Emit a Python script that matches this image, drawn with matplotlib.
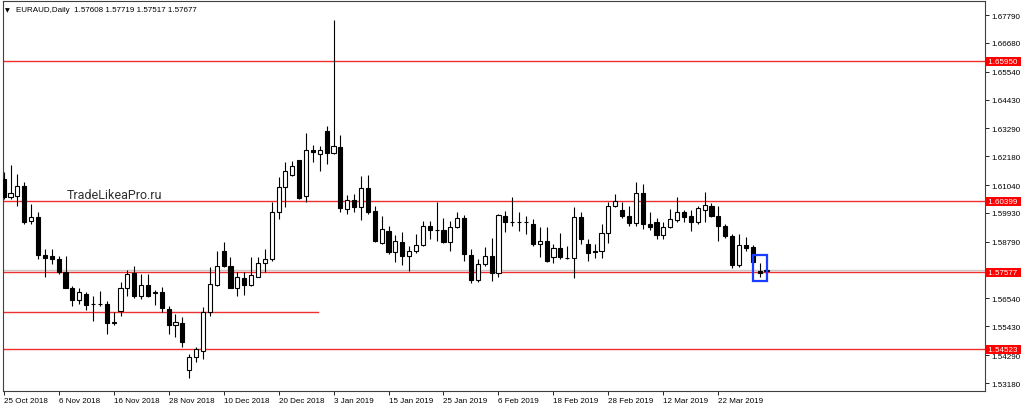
import numpy as np
import matplotlib.pyplot as plt
from matplotlib.patches import Rectangle

# Daily candles EURAUD (one per trading day)
opens = [1.6128, 1.6057, 1.6060, 1.6100, 1.5961, 1.5977, 1.5826, 1.5822, 1.5810, 1.5759,
         1.5695, 1.5648, 1.5671, 1.5632, 1.5631, 1.5632, 1.5556, 1.5604, 1.5695, 1.5755,
         1.5663, 1.5707, 1.5675, 1.5679, 1.5612, 1.5548, 1.5556, 1.5370, 1.5421, 1.5445,
         1.5600, 1.5707, 1.5842, 1.5783, 1.5695, 1.5735, 1.5707, 1.5739, 1.5794, 1.5810,
         1.5997, 1.6096, 1.6144, 1.6203, 1.6060, 1.6243, 1.6227, 1.6319, 1.6231, 1.6255,
         1.6009, 1.6045, 1.6017, 1.6092, 1.6001, 1.5874, 1.5921, 1.5838, 1.5878, 1.5822,
         1.5842, 1.5866, 1.5941, 1.5925, 1.5925, 1.5878, 1.5937, 1.5973, 1.5826, 1.5727,
         1.5790, 1.5822, 1.5755, 1.5981, 1.5957, 1.5956, 1.5957, 1.5949, 1.5870, 1.5882,
         1.5818, 1.5854, 1.5815, 1.5814, 1.5977, 1.5870, 1.5842, 1.5842, 1.5914, 1.6021,
         1.6005, 1.5981, 1.5953, 1.6072, 1.5949, 1.5957, 1.5906, 1.5937, 1.5965, 1.5997,
         1.5981, 1.5957, 1.6005, 1.6021, 1.5981, 1.5941, 1.5902, 1.5786, 1.5866, 1.5858,
         1.5763, 1.57608]
highs = [1.6156, 1.6184, 1.6148, 1.6116, 1.6029, 1.5997, 1.5850, 1.5850, 1.5822, 1.5822,
         1.5703, 1.5695, 1.5679, 1.5663, 1.5683, 1.5644, 1.5600, 1.5719, 1.5767, 1.5783,
         1.5751, 1.5751, 1.5687, 1.5699, 1.5624, 1.5592, 1.5580, 1.5433, 1.5461, 1.5620,
         1.5779, 1.5842, 1.5878, 1.5818, 1.5759, 1.5759, 1.5818, 1.5818, 1.5850, 1.6037,
         1.6136, 1.6195, 1.6199, 1.6203, 1.6311, 1.6263, 1.6259, 1.6338, 1.6759, 1.6303,
         1.6064, 1.6068, 1.6140, 1.6144, 1.6021, 1.5981, 1.5941, 1.5906, 1.5918, 1.5862,
         1.5910, 1.5961, 1.5961, 1.6037, 1.5973, 1.5961, 1.5997, 1.5985, 1.5850, 1.5810,
         1.5858, 1.5894, 1.5989, 1.6001, 1.6056, 1.5997, 1.5981, 1.5969, 1.5937, 1.5937,
         1.5870, 1.5914, 1.5862, 1.6017, 1.5997, 1.5890, 1.5870, 1.5949, 1.6037, 1.6068,
         1.6037, 1.6021, 1.6116, 1.6108, 1.5997, 1.5973, 1.5957, 1.6009, 1.6056, 1.6005,
         1.6005, 1.6021, 1.6076, 1.6033, 1.6021, 1.5949, 1.5910, 1.5910, 1.5898, 1.5866,
         1.5794, 1.57719]
lows = [1.6049, 1.6049, 1.6021, 1.5949, 1.5949, 1.5810, 1.5739, 1.5790, 1.5751, 1.5695,
        1.5624, 1.5632, 1.5608, 1.5564, 1.5624, 1.5513, 1.5548, 1.5584, 1.5663, 1.5655,
        1.5651, 1.5659, 1.5628, 1.5600, 1.5513, 1.5501, 1.5461, 1.5338, 1.5401, 1.5413,
        1.5584, 1.5703, 1.5778, 1.5695, 1.5663, 1.5667, 1.5703, 1.5739, 1.5759, 1.5802,
        1.5969, 1.6017, 1.6140, 1.6049, 1.6037, 1.6195, 1.6160, 1.6188, 1.6227, 1.5997,
        1.5989, 1.5997, 1.5965, 1.5989, 1.5878, 1.5870, 1.5830, 1.5798, 1.5786, 1.5763,
        1.5834, 1.5862, 1.5890, 1.5882, 1.5874, 1.5842, 1.5933, 1.5802, 1.5715, 1.5719,
        1.5782, 1.5723, 1.5739, 1.5917, 1.5941, 1.5921, 1.5910, 1.5862, 1.5818, 1.5798,
        1.5794, 1.5810, 1.5810, 1.5735, 1.5870, 1.5802, 1.5814, 1.5814, 1.5874, 1.6017,
        1.5973, 1.5941, 1.5941, 1.5929, 1.5925, 1.5890, 1.5890, 1.5933, 1.5957, 1.5957,
        1.5921, 1.5949, 1.5957, 1.5977, 1.5882, 1.5894, 1.5775, 1.5778, 1.5842, 1.5794,
        1.5739, 1.57517]
closes = [1.6057, 1.6072, 1.6100, 1.5957, 1.5977, 1.5826, 1.5814, 1.5810, 1.5759, 1.5695,
          1.5648, 1.5679, 1.5628, 1.5631, 1.5632, 1.5556, 1.5560, 1.5695, 1.5751, 1.5663,
          1.5707, 1.5663, 1.5679, 1.5616, 1.5548, 1.5560, 1.5481, 1.5421, 1.5453, 1.5600,
          1.5711, 1.5783, 1.5783, 1.5695, 1.5739, 1.5707, 1.5747, 1.5794, 1.5810, 1.5997,
          1.6096, 1.6160, 1.6180, 1.6053, 1.6243, 1.6235, 1.6243, 1.6231, 1.6259, 1.6013,
          1.6045, 1.6017, 1.6092, 1.5997, 1.5882, 1.5929, 1.5838, 1.5882, 1.5822, 1.5842,
          1.5866, 1.5941, 1.5925, 1.5926, 1.5878, 1.5937, 1.5973, 1.5830, 1.5727, 1.5790,
          1.5822, 1.5755, 1.5985, 1.5957, 1.5956, 1.5957, 1.5956, 1.5870, 1.5882, 1.5802,
          1.5854, 1.5818, 1.5814, 1.5977, 1.5890, 1.5834, 1.5838, 1.5914, 1.6021, 1.6041,
          1.5981, 1.5953, 1.6072, 1.5949, 1.5937, 1.5906, 1.5937, 1.5969, 1.5997, 1.5977,
          1.5957, 1.6013, 1.6025, 1.5981, 1.5941, 1.5902, 1.5786, 1.5866, 1.5854, 1.5798,
          1.5755, 1.57677]

date_labels = ["25 Oct 2018", "6 Nov 2018", "16 Nov 2018", "28 Nov 2018", "10 Dec 2018",
               "20 Dec 2018", "3 Jan 2019", "15 Jan 2019", "25 Jan 2019", "6 Feb 2019",
               "18 Feb 2019", "28 Feb 2019", "12 Mar 2019", "22 Mar 2019"]
date_index = [0, 8, 16, 24, 32, 40, 48, 56, 64, 72, 80, 88, 96, 104]

price_ticks = [1.67790, 1.66680, 1.65540, 1.64430, 1.63290, 1.62180, 1.61040,
               1.59930, 1.58790, 1.56540, 1.55430, 1.54290, 1.53180]
levels = [1.65950, 1.60399, 1.57577, 1.54523]
short_level = 1.5600
short_level_end = 45.8
bid = 1.57677

title = "EURAUD,Daily  1.57608 1.57719 1.57517 1.57677"

plt.rcParams["font.family"] = ["Liberation Sans", "DejaVu Sans"]
fs = 5.8

fig = plt.figure(figsize=(10.24, 4.06), dpi=100)
ax = fig.add_axes([3 / 1024, 1 - 392 / 406, 982 / 1024, 390 / 406])
ax.set_xlim(-0.1, 142.8)
ax.set_ylim(1.52863, 1.68346)

n = len(opens)
x = np.arange(n)
o = np.array(opens)
c = np.array(closes)
up = c >= o
bw = 0.6

# wicks
ax.vlines(x, lows, highs, color="black", lw=0.8, zorder=3)
# bodies
bottoms = np.minimum(o, c)
heights = np.maximum(np.abs(c - o), 0.00002)
ax.bar(x[up], heights[up], bw, bottom=bottoms[up], facecolor="white",
       edgecolor="black", lw=0.8, zorder=4)
ax.bar(x[~up], heights[~up], bw, bottom=bottoms[~up], facecolor="black",
       edgecolor="black", lw=0.8, zorder=4)

# horizontal levels
ax.axhline(bid, color="#c8c8c8", lw=1.0, zorder=1)
for lv in levels:
    ax.axhline(lv, color="#f03030", lw=1.0, zorder=2)
ax.plot([-0.1, short_level_end], [short_level, short_level], color="#f03030", lw=1.0, zorder=2)

# marked candle
ax.add_patch(Rectangle((109.1, 1.5723), 2.0, 0.0103, fill=False,
                       edgecolor="#1a3cff", lw=1.6, zorder=5))

# right price scale
ax.yaxis.tick_right()
ax.set_yticks(price_ticks)
ax.set_yticklabels([f"{p:.5f}" for p in price_ticks])
ax.tick_params(axis="y", direction="out", length=3, width=0.6, pad=1.5,
               labelsize=fs, colors="black")
ytr = ax.get_yaxis_transform()
for lv in levels:
    ax.text(1.0012, lv, f" {lv:.5f} ", transform=ytr, ha="left", va="center",
            fontsize=fs, color="white", zorder=10, clip_on=False,
            bbox=dict(boxstyle="square,pad=0.12", facecolor="#ff0000", edgecolor="none"))

# dates
ax.set_xticks(date_index)
ax.set_xticklabels(date_labels, ha="left")
ax.tick_params(axis="x", direction="out", length=3, width=0.6, pad=1.5, labelsize=fs)

for sp in ax.spines.values():
    sp.set_color("#404040")
    sp.set_linewidth(0.8)

ax.text(0.002, 0.985, "\u25BC", transform=ax.transAxes, ha="left", va="top",
        fontsize=4.5, color="black", family="DejaVu Sans")
ax.text(0.013, 0.988, title, transform=ax.transAxes, ha="left", va="top",
        fontsize=fs, color="black")
ax.text(0.065, 0.505, "TradeLikeaPro.ru", transform=ax.transAxes, ha="left", va="center",
        fontsize=9, color="#303030", family="Roboto")

fig.savefig("out.png", dpi=100)
